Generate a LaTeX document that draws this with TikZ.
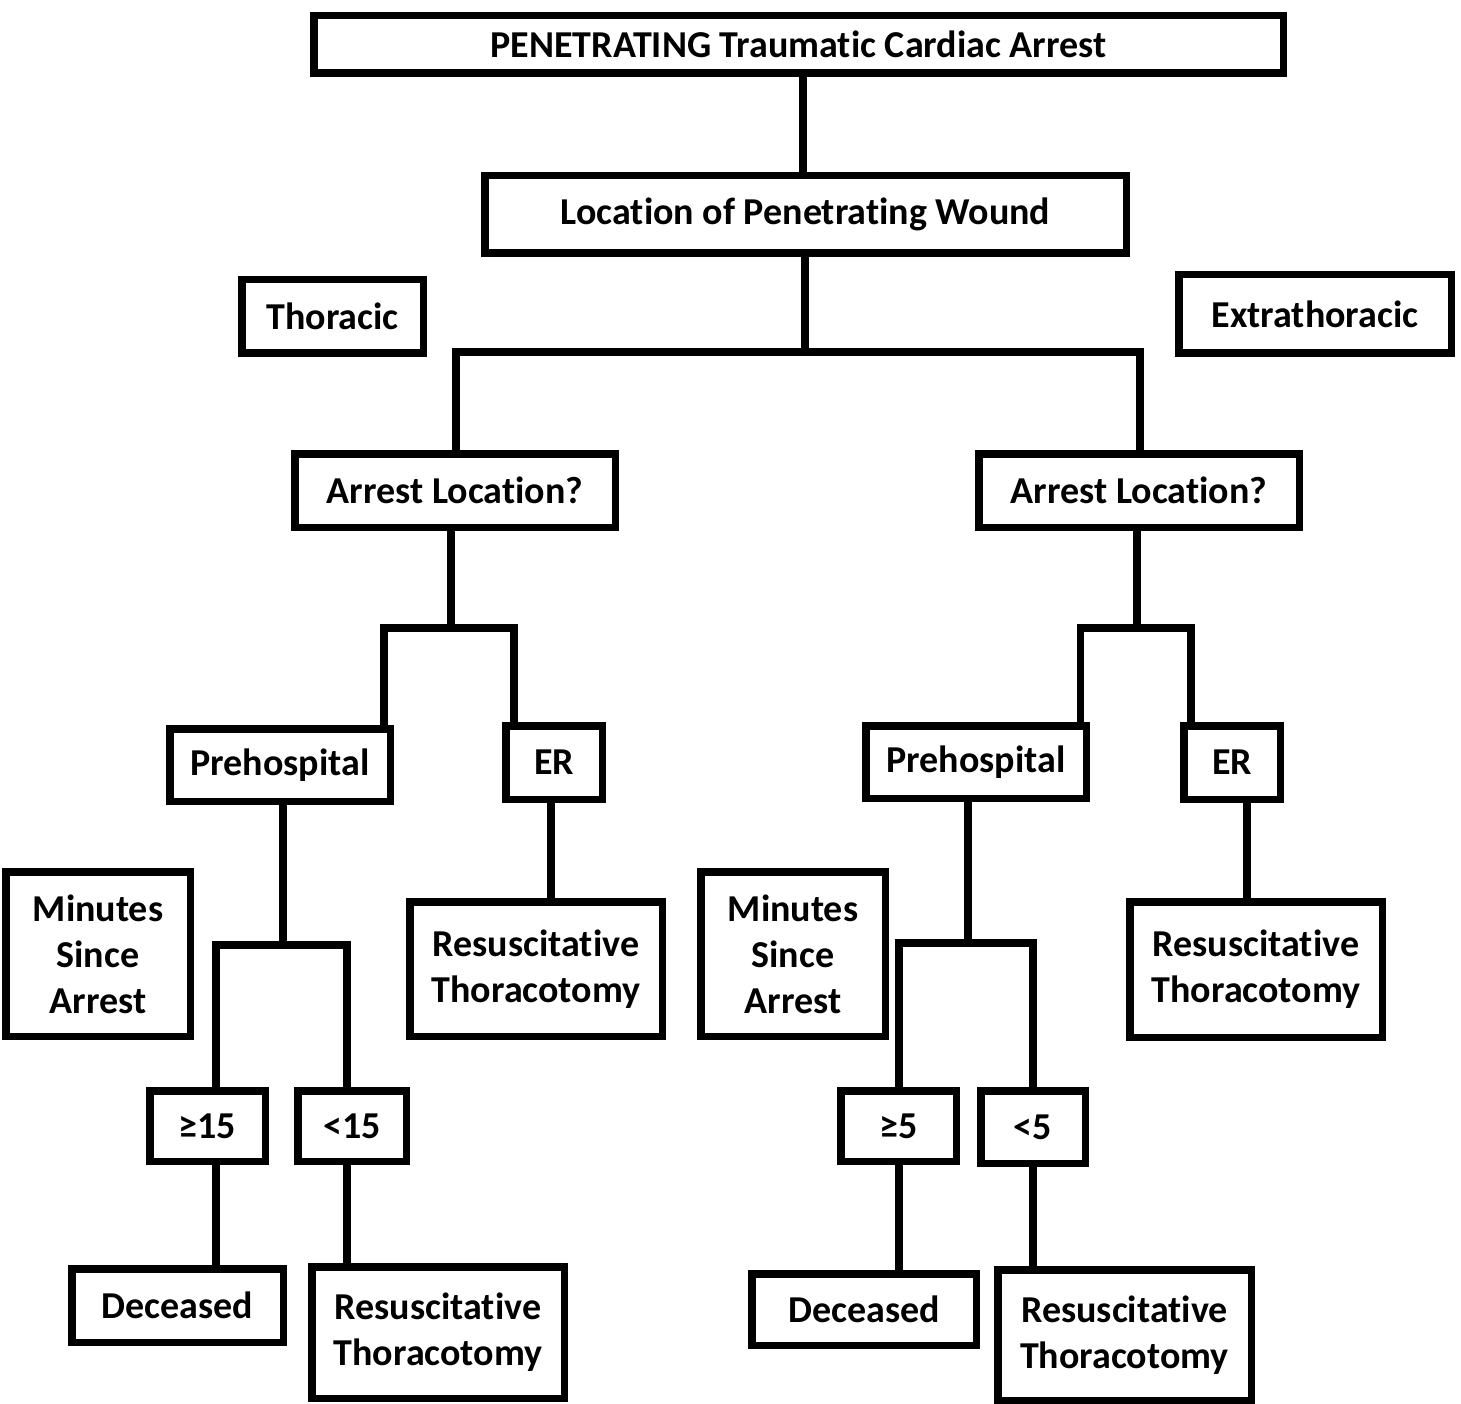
\documentclass[tikz,border=0pt]{standalone}
\usepackage{fontspec}
\setmainfont{Carlito}[Ligatures={NoCommon}]
\begin{document}
\begin{tikzpicture}[x=1pt,y=-1pt,
  box/.style={draw, line width=7.5pt, inner sep=0pt, align=center,
    font=\bfseries\fontsize{38}{46}\selectfont},
  conn/.style={draw, line width=7.5pt, line join=miter}]
\useasboundingbox (0,0) rectangle (1461,1404);
% boxes
\node[box, minimum width=969.5, minimum height=57.5] (top) at (798.5,44.5) {PENETRATING Traumatic Cardiac Arrest};
\node[box, minimum width=641.5, minimum height=77.5] (loc) at (805.5,214.5) {Location of Penetrating Wound};
\node[box, minimum width=181.5, minimum height=73.5] (thor) at (332.5,316.5) {Thoracic};
\node[box, minimum width=272.5, minimum height=78.5] (extra) at (1315,314) {Extrathoracic};
\node[box, minimum width=320.5, minimum height=73.5] (arrL) at (455,490.5) {Arrest Location?};
\node[box, minimum width=320.5, minimum height=73.5] (arrR) at (1139,490.5) {Arrest Location?};
\node[box, minimum width=220.5, minimum height=72.5] (preL) at (280,765) {Prehospital};
\node[box, minimum width=96.5, minimum height=73.5] (erL) at (554,762.5) {ER};
\node[box, minimum width=220.5, minimum height=72.5] (preR) at (976,762) {Prehospital};
\node[box, minimum width=96.5, minimum height=73.5] (erR) at (1232,762.5) {ER};
\node[box, minimum width=184.5, minimum height=164.5] (minL) at (98,954) {Minutes\\Since\\Arrest};
\node[box, minimum width=252.5, minimum height=134.5] (resL1) at (536,969) {Resuscitative\\Thoracotomy};
\node[box, minimum width=184.5, minimum height=164.5] (minR) at (793,954) {Minutes\\Since\\Arrest};
\node[box, minimum width=252.5, minimum height=135.5] (resR1) at (1256,969.5) {Resuscitative\\Thoracotomy};
\node[box, minimum width=115.5, minimum height=70.5] (ge15) at (207.5,1126) {≥15};
\node[box, minimum width=108.5, minimum height=70.5] (lt15) at (352,1126) {<15};
\node[box, minimum width=115.5, minimum height=70.5] (ge5) at (898.5,1126) {≥5};
\node[box, minimum width=104.5, minimum height=72.5] (lt5) at (1033,1127) {<5};
\node[box, minimum width=211.5, minimum height=73.5] (decL) at (177.5,1305.5) {Deceased};
\node[box, minimum width=252.5, minimum height=131.5] (resL2) at (438,1332.5) {Resuscitative\\Thoracotomy};
\node[box, minimum width=224.5, minimum height=71.5] (decR) at (864,1309.5) {Deceased};
\node[box, minimum width=253.5, minimum height=130.5] (resR2) at (1124.5,1335) {Resuscitative\\Thoracotomy};
% coordinates
\coordinate (x0) at (803,0);
\coordinate (jA) at (805,352);
\coordinate (xA1) at (456,0);
\coordinate (xA2) at (1140,0);
\coordinate (jB) at (451,628);
\coordinate (xB1) at (384,0);
\coordinate (xB2) at (514,0);
\coordinate (jC) at (1137,628);
\coordinate (xC1) at (1080.5,0);
\coordinate (xC2) at (1191,0);
\coordinate (xER1) at (551,0);
\coordinate (xER2) at (1247,0);
\coordinate (jD) at (283,945);
\coordinate (xD1) at (216,0);
\coordinate (xD2) at (347,0);
\coordinate (jE) at (968,943);
\coordinate (xE1) at (899,0);
\coordinate (xE2) at (1033,0);
% connectors
\draw[conn] (top.south -| x0) -- (loc.north -| x0);
\draw[conn] (loc.south -| jA) -- (jA);
\draw[conn] (arrL.north -| xA1) |- (jA) -| (arrR.north -| xA2);
\draw[conn] (arrL.south -| jB) -- (jB);
\draw[conn] (preL.north -| xB1) |- (jB) -| (erL.north -| xB2);
\draw[conn] (arrR.south -| jC) -- (jC);
\draw[conn] (preR.north -| xC1) |- (jC) -| (erR.north -| xC2);
\draw[conn] (erL.south -| xER1) -- (resL1.north -| xER1);
\draw[conn] (erR.south -| xER2) -- (resR1.north -| xER2);
\draw[conn] (preL.south -| jD) -- (jD);
\draw[conn] (ge15.north -| xD1) |- (jD) -| (lt15.north -| xD2);
\draw[conn] (preR.south -| jE) -- (jE);
\draw[conn] (ge5.north -| xE1) |- (jE) -| (lt5.north -| xE2);
\draw[conn] (ge15.south -| xD1) -- (decL.north -| xD1);
\draw[conn] (lt15.south -| xD2) -- (resL2.north -| xD2);
\draw[conn] (ge5.south -| xE1) -- (decR.north -| xE1);
\draw[conn] (lt5.south -| xE2) -- (resR2.north -| xE2);
\end{tikzpicture}
\end{document}
